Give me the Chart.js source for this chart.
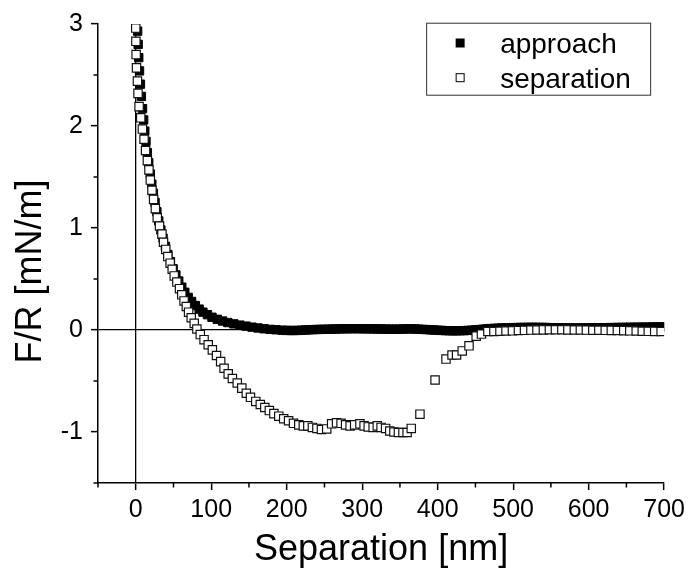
<!DOCTYPE html>
<html>
<head>
<meta charset="utf-8">
<script src="https://cdn.jsdelivr.net/npm/chart.js@4.4.1/dist/chart.umd.min.js"></script>
<style>
  body { margin: 0; background: #fff; }
  #wrap { width: 690px; height: 575px; }
</style>
</head>
<body>
<div id="wrap"><canvas id="forceChart" width="690" height="575"></canvas></div>
<script>
// approach curve (filled squares)
const approachX = [
  2.5, 3.2, 4, 5, 6.2, 7.5, 9, 10.5, 12, 13.6,
  15.4, 17.2, 19.3, 21.3, 23.4, 25.6, 28, 30.5, 33.3, 36.2,
  39.3, 42.6, 46, 49.6, 53.2, 57, 61, 65, 69.5, 74,
  79, 84, 89, 95, 101, 108, 115, 122, 130, 138,
  146, 154, 162, 170, 178, 186, 194,
  200, 205, 210, 215, 220, 225, 230, 235, 240, 245,
  250, 255, 260, 265, 270, 275, 280, 285, 290, 295,
  300, 305, 310, 315, 320, 325, 330, 335, 340, 345,
  350, 355, 360, 365, 370, 375, 380, 385, 390, 395,
  400, 405, 410, 415, 420, 425, 430, 435, 440, 445,
  450, 455, 460, 465, 470, 475, 480, 485, 490, 495,
  500, 505, 510, 515, 520, 525, 530, 535, 540, 545,
  550, 555, 560, 565, 570, 575, 580, 585, 590, 595,
  600, 605, 610, 615, 620, 625, 630, 635, 640, 645,
  650, 655, 660, 665, 670, 675, 680, 685, 690, 695,
  700
];
const approachY = [
  2.93, 2.80, 2.67, 2.54, 2.41, 2.29, 2.17, 2.06, 1.95, 1.85,
  1.74, 1.64, 1.53, 1.43, 1.34, 1.25, 1.16, 1.07, 0.98, 0.90,
  0.82, 0.74, 0.67, 0.60, 0.54, 0.48, 0.42, 0.37, 0.32, 0.28,
  0.24, 0.205, 0.175, 0.15, 0.125, 0.105, 0.088, 0.073, 0.06, 0.048,
  0.038, 0.028, 0.02, 0.012, 0.006, 0.002, -0.002,
  -0.004, -0.005, -0.005, -0.004, -0.002, 0, 0.002, 0.004, 0.005, 0.006,
  0.007, 0.008, 0.009, 0.01, 0.011, 0.012, 0.012, 0.013, 0.013, 0.013,
  0.012, 0.012, 0.011, 0.011, 0.01, 0.01, 0.009, 0.009, 0.008, 0.008,
  0.009, 0.01, 0.011, 0.011, 0.01, 0.008, 0.006, 0.004, 0.002, 0,
  -0.002, -0.004, -0.006, -0.007, -0.008, -0.008, -0.007, -0.006, -0.004, -0.002,
  0.001, 0.004, 0.008, 0.011, 0.014, 0.016, 0.018, 0.02, 0.021, 0.022,
  0.023, 0.024, 0.025, 0.025, 0.026, 0.026, 0.026, 0.025, 0.025, 0.024,
  0.023, 0.022, 0.021, 0.021, 0.02, 0.02, 0.019, 0.019, 0.02, 0.02,
  0.021, 0.021, 0.022, 0.022, 0.023, 0.023, 0.024, 0.024, 0.025, 0.025,
  0.026, 0.026, 0.027, 0.027, 0.028, 0.028, 0.028, 0.029, 0.029, 0.029,
  0.03
];

// separation curve (open squares)
const separationX = [
  0, 0.2, 0.5, 1.0, 2.2, 3.0, 4.4, 6.6, 8.8, 11,
  13, 15.4, 17.5, 19.3, 21.5, 23.7, 26, 28.5, 31.5, 34.7,
  36.8, 39.8, 42.5, 45.6, 48.3, 51, 54.5, 58, 61, 64,
  67, 70, 73.5, 77.5, 81, 85.5, 90.5, 96, 101.5, 107,
  112.5, 117, 122.5, 128, 134.5, 140.5, 146.5, 152, 159, 165,
  171, 177, 183, 189.5, 196, 202.5, 209, 216, 222, 228,
  234, 240, 246, 253, 259.5, 266, 272, 278, 284, 290,
  297, 302.5, 308, 314.5, 320, 325, 331, 336.5, 342, 348,
  354, 359.5, 365, 376.5, 396.5, 411, 419, 425, 432.5, 441.5,
  451, 458, 466.5, 474.5, 482.5, 490.5, 499, 507, 515, 523.5,
  531.5, 540, 548, 556, 564.5, 572.5, 581, 589, 597, 605.5,
  613.5, 622, 630, 638, 646.5, 654.5, 663, 671, 679, 687.5,
  696
];
const separationY = [
  2.96, 2.83, 2.70, 2.57, 2.44, 2.32, 2.19, 2.08, 1.97, 1.87,
  1.76, 1.66, 1.57, 1.47, 1.37, 1.28, 1.19, 1.10, 1.02, 0.94,
  0.86, 0.79, 0.72, 0.655, 0.596, 0.53, 0.47, 0.405, 0.345, 0.285,
  0.23, 0.175, 0.12, 0.065, 0.01, -0.045, -0.095, -0.145, -0.195, -0.25,
  -0.31, -0.375, -0.43, -0.475, -0.52, -0.57, -0.62, -0.66, -0.70, -0.73,
  -0.76, -0.79, -0.82, -0.845, -0.87, -0.89, -0.915, -0.93, -0.94, -0.94,
  -0.955, -0.965, -0.975, -0.97, -0.92, -0.91, -0.915, -0.93, -0.94, -0.93,
  -0.92, -0.94, -0.95, -0.955, -0.94, -0.955, -0.965, -0.99, -1.0, -1.005,
  -1.005, -1.005, -0.965, -0.825, -0.49, -0.285, -0.245, -0.245, -0.205, -0.155,
  -0.06, -0.04, -0.015, -0.015, -0.012, -0.01, -0.008, -0.005, -0.003, -0.001,
  0.0, 0.001, 0.002, 0.002, 0.002, 0.001, 0.0, 0.0, -0.001, -0.002,
  -0.002, -0.003, -0.004, -0.005, -0.006, -0.008, -0.01, -0.012, -0.013, -0.014,
  -0.015
];

const seriesNames = ['approach', 'separation'];
const xTickLabels = [0, 100, 200, 300, 400, 500, 600, 700];
const yTickLabels = [-1, 0, 1, 2, 3];
const xTitle = 'Separation [nm]';
const yTitle = 'F/R [mN/m]';

const FONT = "'Liberation Sans', Arial, sans-serif";

function toPoints(xs, ys) {
    return xs.map((x, i) => ({ x: x, y: ys[i] }));
}

// short minor ticks (the library draws only the long ones)
const minorTicks = {
    id: 'minorTicks',
    afterDraw(chart) {
        const { ctx, scales: { x, y } } = chart;
        ctx.save();
        ctx.strokeStyle = '#000';
        ctx.lineWidth = 1.5;
        ctx.beginPath();
        x.ticks.forEach(t => {
            if (xTickLabels.includes(t.value)) return;
            const px = x.getPixelForValue(t.value);
            ctx.moveTo(px, x.top);
            ctx.lineTo(px, x.top + 4.5);
        });
        y.ticks.forEach(t => {
            if (yTickLabels.includes(t.value)) return;
            const py = y.getPixelForValue(t.value);
            ctx.moveTo(y.right, py);
            ctx.lineTo(y.right - 4.5, py);
        });
        ctx.stroke();
        ctx.restore();
    }
};

// y title sits a bit below the axis centre in the original
const yAxisTitle = {
    id: 'yAxisTitle',
    afterDraw(chart) {
        const { ctx, chartArea, scales: { y } } = chart;
        ctx.save();
        ctx.translate(y.left + 41, (chartArea.top + chartArea.bottom) / 2 + 18);
        ctx.rotate(-Math.PI / 2);
        ctx.font = '36px ' + FONT;
        ctx.fillStyle = '#000';
        ctx.textAlign = 'center';
        ctx.textBaseline = 'alphabetic';
        ctx.fillText(yTitle, 0, 0);
        ctx.restore();
    }
};

// boxed legend in the upper right corner
const boxLegend = {
    id: 'boxLegend',
    afterDraw(chart) {
        const { ctx, chartArea } = chart;
        const left = chartArea.right - 238;
        const top = chartArea.top - 1.3;
        ctx.save();
        ctx.strokeStyle = '#333';
        ctx.lineWidth = 1;
        ctx.strokeRect(left + 0.5, top + 0.5, 224, 72);

        const rows = [top + 20.3, top + 55];
        chart.data.datasets.forEach((ds, i) => {
            const cy = rows[i];
            ctx.fillStyle = ds.backgroundColor;
            ctx.fillRect(left + 34 - 4.5, cy - 4.5, 9, 9);
            if (ds.backgroundColor !== '#000') {
                ctx.strokeStyle = '#000';
                ctx.lineWidth = 1;
                ctx.strokeRect(left + 34 - 4, cy - 4, 8, 8);
            }
            ctx.fillStyle = '#000';
            ctx.font = '28px ' + FONT;
            ctx.textAlign = 'left';
            ctx.textBaseline = 'alphabetic';
            ctx.fillText(ds.label, left + 74, cy + 10);
        });
        ctx.restore();
    }
};

const ctx = document.getElementById('forceChart').getContext('2d');
new Chart(ctx, {
    type: 'scatter',
    data: {
        datasets: [
            {
                label: seriesNames[0],
                data: toPoints(approachX, approachY),
                pointStyle: 'rect',
                pointRadius: 5.9,
                backgroundColor: '#000',
                borderColor: '#000',
                borderWidth: 1,
                order: 2
            },
            {
                label: seriesNames[1],
                data: toPoints(separationX, separationY),
                pointStyle: 'rect',
                pointRadius: 5.9,
                backgroundColor: '#fff',
                borderColor: '#111',
                borderWidth: 1.2,
                order: 1
            }
        ]
    },
    options: {
        responsive: false,
        animation: false,
        layout: { padding: { top: 24, right: 23, left: 0, bottom: 0 } },
        plugins: {
            legend: { display: false },
            tooltip: { enabled: false }
        },
        scales: {
            x: {
                type: 'linear',
                min: -50,
                max: 700,
                afterFit(scale) { scale.height = 92; },
                ticks: {
                    stepSize: 50,
                    autoSkip: false,
                    maxRotation: 0,
                    padding: 5,
                    color: '#000',
                    font: { family: FONT, size: 25 },
                    callback: v => xTickLabels.includes(v) ? String(v) : ''
                },
                grid: {
                    drawOnChartArea: true,
                    color: c => (c.tick && c.tick.value === 0) ? '#000' : 'rgba(0,0,0,0)',
                    lineWidth: 1.3,
                    tickLength: 7,
                    tickWidth: 1.5,
                    tickColor: c => (c.tick && xTickLabels.includes(c.tick.value)) ? '#000' : 'rgba(0,0,0,0)'
                },
                border: { display: true, color: '#000', width: 1.5 },
                title: {
                    display: true,
                    text: xTitle,
                    color: '#000',
                    font: { family: FONT, size: 36 },
                    padding: { top: 0, bottom: 3 }
                }
            },
            y: {
                type: 'linear',
                min: -1.5,
                max: 3,
                afterFit(scale) { scale.width = 98; },
                ticks: {
                    stepSize: 0.5,
                    autoSkip: false,
                    padding: 8,
                    color: '#000',
                    font: { family: FONT, size: 25 },
                    callback: v => yTickLabels.includes(v) ? String(v) : ''
                },
                grid: {
                    drawOnChartArea: true,
                    color: c => (c.tick && c.tick.value === 0) ? '#000' : 'rgba(0,0,0,0)',
                    lineWidth: 1.3,
                    tickLength: 7,
                    tickWidth: 1.5,
                    tickColor: c => (c.tick && yTickLabels.includes(c.tick.value)) ? '#000' : 'rgba(0,0,0,0)'
                },
                border: { display: true, color: '#000', width: 1.5 },
                title: { display: false }
            }
        }
    },
    plugins: [minorTicks, yAxisTitle, boxLegend]
});
</script>
</body>
</html>
